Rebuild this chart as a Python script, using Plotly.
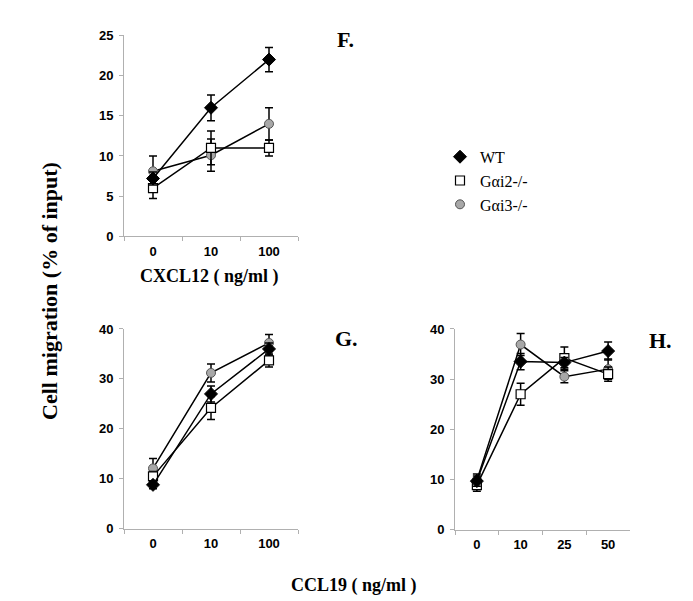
import plotly.graph_objects as go

# ---- data ----
series_names = ["WT", "G\u03b1i2-/-", "G\u03b1i3-/-"]

F_cats = ["0", "10", "100"]
F_wt = [7.2, 16.0, 22.0]
F_wt_err = [0.8, 1.6, 1.5]
F_i2 = [6.0, 11.0, 11.0]
F_i2_err = [1.3, 2.1, 1.0]
F_i3 = [8.1, 10.1, 14.0]
F_i3_err = [1.9, 2.0, 2.0]

G_cats = ["0", "10", "100"]
G_wt = [8.8, 27.0, 36.0]
G_wt_err = [0.8, 1.6, 1.2]
G_i2 = [10.5, 24.2, 33.7]
G_i2_err = [1.0, 2.3, 1.3]
G_i3 = [12.1, 31.2, 37.2]
G_i3_err = [2.0, 1.8, 1.7]

H_cats = ["0", "10", "25", "50"]
H_wt = [9.7, 33.5, 33.3, 35.6]
H_wt_err = [1.0, 1.6, 1.0, 1.8]
H_i2 = [8.9, 27.0, 34.2, 31.0]
H_i2_err = [1.2, 2.2, 2.2, 1.4]
H_i3 = [9.9, 36.9, 30.5, 32.0]
H_i3_err = [1.2, 2.2, 1.2, 2.0]

W, Hh = 693, 601

styles = [
    dict(symbol="diamond", size=10, color="black", line=dict(color="black", width=1)),
    dict(symbol="square", size=9, color="white", line=dict(color="black", width=1.2)),
    dict(symbol="circle", size=9, color="#a8a8a8", line=dict(color="#555555", width=1)),
]

fig = go.Figure()

panels = [
    ("x", "y", F_cats, [(F_wt, F_wt_err), (F_i2, F_i2_err), (F_i3, F_i3_err)]),
    ("x2", "y2", G_cats, [(G_wt, G_wt_err), (G_i2, G_i2_err), (G_i3, G_i3_err)]),
    ("x3", "y3", H_cats, [(H_wt, H_wt_err), (H_i2, H_i2_err), (H_i3, H_i3_err)]),
]

order = [2, 1, 0]
for pi, (xa, ya, cats, data) in enumerate(panels):
    for si in order:
        vals, errs = data[si]
        fig.add_trace(go.Scatter(
            x=cats, y=vals, xaxis=xa, yaxis=ya,
            mode="lines+markers",
            name=series_names[si],
            showlegend=False,
            line=dict(color="black", width=1.5),
            marker=styles[si],
            error_y=dict(type="data", array=errs, visible=True,
                         color="black", thickness=1.5, width=4),
        ))

# legend entries (markers only, as in the reference)
for si in range(3):
    fig.add_trace(go.Scatter(
        x=[None], y=[None], xaxis="x", yaxis="y", mode="markers",
        name=series_names[si], legendrank=si + 1, showlegend=True,
        marker=styles[si],
    ))

def dom_x(a, b):
    return [a / W, b / W]

def dom_y(bottom, top):
    return [1 - bottom / Hh, 1 - top / Hh]

tickfont = dict(family="Liberation Sans, Arial", size=13, color="black", weight="bold")
axis_common = dict(showline=True, linecolor="#b0b0b0", linewidth=1, showgrid=False,
                   zeroline=False, ticks="outside", tickcolor="#b0b0b0", ticklen=4,
                   tickfont=tickfont)

fig.update_layout(
    width=W, height=Hh,
    margin=dict(l=0, r=0, t=0, b=0),
    paper_bgcolor="white", plot_bgcolor="white",
    xaxis=dict(domain=dom_x(116, 290), anchor="y", type="category",
               tickson="boundaries", range=[-0.5, 2.5], ticklabelstandoff=3, **axis_common),
    yaxis=dict(domain=dom_y(227, 21), anchor="x", range=[0, 25], dtick=5,
               ticklabelstandoff=3, **axis_common),
    xaxis2=dict(domain=dom_x(116, 290), anchor="y2", type="category",
                tickson="boundaries", range=[-0.5, 2.5], ticklabelstandoff=3, **axis_common),
    yaxis2=dict(domain=dom_y(527, 322), anchor="x2", range=[0, 40], dtick=10,
                ticklabelstandoff=3, **axis_common),
    xaxis3=dict(domain=dom_x(447, 622), anchor="y3", type="category",
                tickson="boundaries", range=[-0.5, 3.5], ticklabelstandoff=3, **axis_common),
    yaxis3=dict(domain=dom_y(528, 322), anchor="x3", range=[0, 40], dtick=10,
                ticklabelstandoff=3, **axis_common),
    showlegend=True,
    legend=dict(x=432 / W, y=1 - 128 / Hh, xanchor="left", yanchor="top",
                font=dict(family="Liberation Serif, Times New Roman", size=16, color="black"),
                bgcolor="rgba(0,0,0,0)", itemwidth=30),
)

serif_b = "Liberation Serif, Times New Roman"
annos = [
    dict(text="<b>F.</b>", x=337 / W, y=1 - 25 / Hh, size=22),
    dict(text="<b>G.</b>", x=338 / W, y=1 - 332 / Hh, size=22),
    dict(text="<b>H.</b>", x=652 / W, y=1 - 334 / Hh, size=22),
    dict(text="<b>CXCL12 ( ng/ml )</b>", x=201 / W, y=1 - 268 / Hh, size=18),
    dict(text="<b>CCL19 ( ng/ml )</b>", x=346 / W, y=1 - 585 / Hh, size=18),
]
for a in annos:
    fig.add_annotation(text=a["text"], x=a["x"], y=a["y"], xref="paper", yref="paper",
                       showarrow=False, xanchor="center", yanchor="middle",
                       font=dict(family=serif_b, size=a["size"], color="black"))
fig.add_annotation(text="<b>Cell migration (% of input)</b>", x=42 / W, y=1 - 283 / Hh,
                   xref="paper", yref="paper", showarrow=False, textangle=-90,
                   xanchor="center", yanchor="middle",
                   font=dict(family=serif_b, size=22, color="black"))

fig.write_html("out.html")
